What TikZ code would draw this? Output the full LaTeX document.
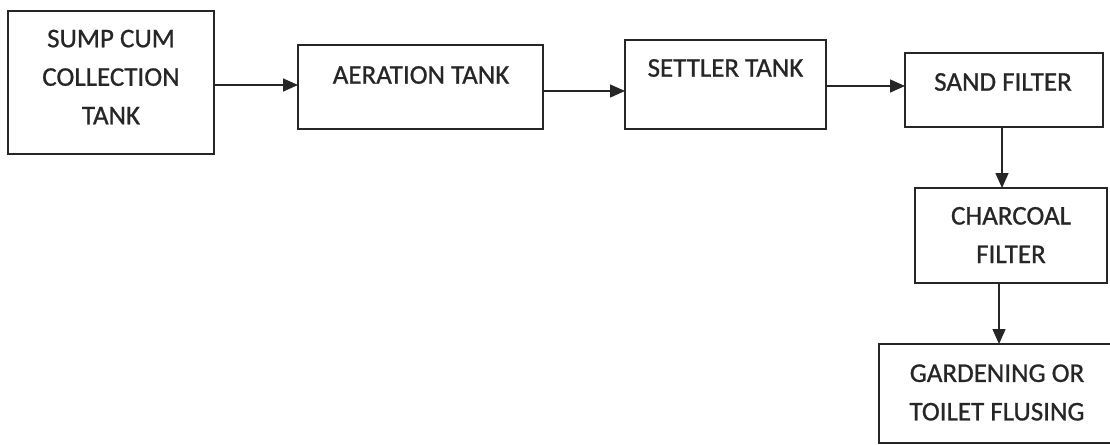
\documentclass[tikz,border=0pt]{standalone}
\usepackage{fontspec}
\setmainfont{Carlito}[FakeBold=0.8]
\usetikzlibrary{arrows.meta}
\begin{document}
\begin{tikzpicture}[x=1pt,y=-1pt,
  box/.style={draw=black!85,line width=1.5pt,rectangle,inner sep=0pt,outer sep=0pt},
  lbl/.style={inner sep=0pt,align=center,text=black!85,font=\fontsize{27}{38.5}\selectfont},
  arr/.style={draw=black!85,line width=1.5pt,-{Triangle[length=15pt,width=13pt]}}]
\useasboundingbox (0,0) rectangle (1110,444);
\clip (0,0) rectangle (1110,444);
\fill[white] (0,0) rectangle (1110,444);
\node[box,minimum width=206pt,minimum height=143pt] (b1) at (111,82.5) {};
\node[box,minimum width=245pt,minimum height=84pt] (b2) at (420.5,87) {};
\node[box,minimum width=201pt,minimum height=89pt] (b3) at (725.5,84.5) {};
\node[box,minimum width=198pt,minimum height=74pt] (b4) at (1004,90) {};
\node[box,minimum width=192pt,minimum height=95pt] (b5) at (1011,235.5) {};
\node[box,minimum width=261pt,minimum height=99pt] (b6) at (1009.5,393.5) {};
\node[lbl] (t1) at (111,77) {SUMP CUM\\COLLECTION\\TANK};
\node[lbl] (t2) at (421,75) {AERATION TANK};
\node[lbl] (t3) at (725.5,68) {SETTLER TANK};
\node[lbl] (t4) at (1003,82) {SAND FILTER};
\node[lbl] (t5) at (1011,235) {CHARCOAL\\FILTER};
\node[lbl] (t6) at (997,392.5) {GARDENING OR\\TOILET FLUSING};
\draw[arr] (b1.east |- 0,85) -- (b2.west |- 0,85);
\draw[arr] (b2.east |- 0,91) -- (b3.west |- 0,91);
\draw[arr] (b3.east |- 0,86) -- (b4.west |- 0,86);
\draw[arr] (b4.south -| 1002,0) -- (b5.north -| 1002,0);
\draw[arr] (b5.south -| 999,0) -- (b6.north -| 999,0);
\end{tikzpicture}
\end{document}
